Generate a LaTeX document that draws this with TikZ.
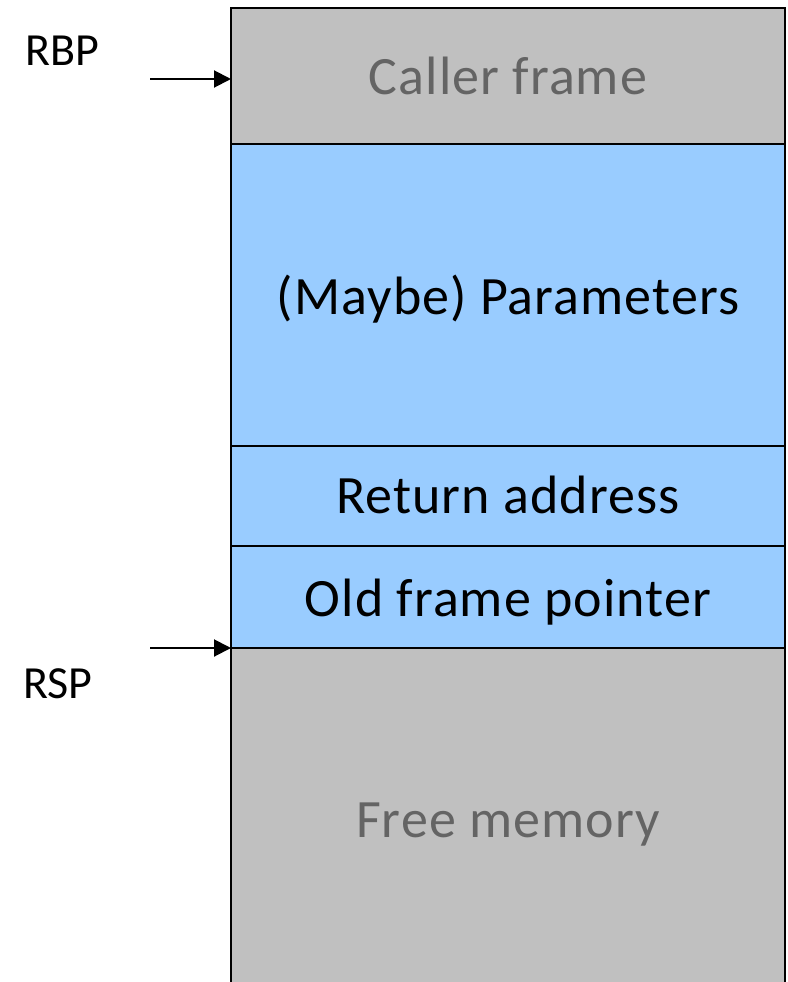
\documentclass[tikz,border=0pt]{standalone}
\usepackage{fontspec}
\setmainfont{Carlito}
\newfontfamily\stackfont[LetterSpace=2]{Carlito}
\usetikzlibrary{arrows.meta}
\definecolor{framegray}{HTML}{C0C0C0}
\definecolor{frameblue}{HTML}{99CCFF}
\definecolor{dimtext}{HTML}{646464}
\tikzset{
  slot/.style={draw=black, line width=2pt, anchor=north west, inner sep=0pt, outer sep=0pt, minimum width=554pt},
  graycell/.style={slot, fill=framegray},
  bluecell/.style={slot, fill=frameblue},
  celltext/.style={anchor=base, inner sep=0pt, font=\stackfont\fontsize{54}{60}\selectfont},
  regtext/.style={anchor=base, inner sep=0pt, font=\fontsize{46}{50}\selectfont},
  ptr/.style={line width=2pt, -{Triangle[length=17pt,width=17pt]}}
}
\begin{document}
\begin{tikzpicture}[x=1pt, y=-1pt]
  \useasboundingbox (0,0) rectangle (787,982);
  \clip (0,0) rectangle (787,982);
  % stack slots, top to bottom
  \node[graycell, minimum height=136pt] (caller) at (231,8) {};
  \node[bluecell, minimum height=302pt] (params) at (231,144) {};
  \node[bluecell, minimum height=100pt] (retaddr) at (231,446) {};
  \node[bluecell, minimum height=102pt] (oldfp) at (231,546) {};
  \node[graycell, minimum height=360pt] (free) at (231,648) {};
  % slot labels
  \node[celltext, text=dimtext] (callerlbl) at (508,94) {Caller frame};
  \node[celltext] (paramslbl) at (508,314) {(Maybe) Parameters};
  \node[celltext] (retlbl) at (508,513) {Return address};
  \node[celltext] (oldfplbl) at (508,616) {Old frame pointer};
  \node[celltext, text=dimtext] (freelbl) at (508,837) {Free memory};
  % register pointers
  \node[regtext] (rbp) at (62,66) {RBP};
  \node[regtext] (rsp) at (58,698) {RSP};
  \coordinate (rbptail) at (150,79);
  \coordinate (rsptail) at (150,648);
  \draw[ptr] (rbptail) -- (caller.west |- rbptail);
  \draw[ptr] (rsptail) -- (oldfp.south west);
\end{tikzpicture}
\end{document}
